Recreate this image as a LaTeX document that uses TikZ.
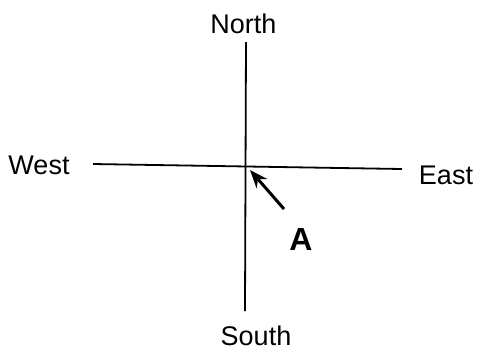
\documentclass[tikz,border=0pt]{standalone}
\usepackage{fontspec}
\setmainfont{Liberation Sans}
\usetikzlibrary{arrows.meta}
\begin{document}
\begin{tikzpicture}[x=0.5pt, y=-0.5pt, >=stealth]

% --- Рамка ---
\useasboundingbox (0,0) rectangle (483,350);

% --- Стили ---
\tikzset{
  dirlabel/.style={font=\fontsize{13.5}{16}\selectfont, inner sep=0pt},
  axisline/.style={black, line width=0.9pt},
  pointer/.style={->, black, line width=1.5pt, >={Stealth[length=9pt, width=7pt]}}
}

% --- Подписи сторон света ---
\node[dirlabel] (north) at (243.5, 23.5) {North};
\node[dirlabel] (south) at (256, 335.5) {South};
\node[dirlabel] (west)  at (39, 165.5)  {West};
\node[dirlabel] (east)  at (446, 175)   {East};

% --- Концы линий ---
\coordinate (ntop) at (246, 42);
\coordinate (sbot) at (245, 311);
\coordinate (wend) at (93, 164);
\coordinate (eend) at (402, 169);

% --- Оси ---
\draw[axisline] (ntop) -- (sbot);
\draw[axisline] (wend) -- (eend);

% --- Точка A ---
\node[font=\fontsize{16}{19}\selectfont\bfseries, inner sep=0pt] (A) at (301, 239) {A};
\coordinate (atail) at (284, 209);
\coordinate (ahead) at (250, 170);
\draw[pointer] (atail) -- (ahead);

\end{tikzpicture}
\end{document}
